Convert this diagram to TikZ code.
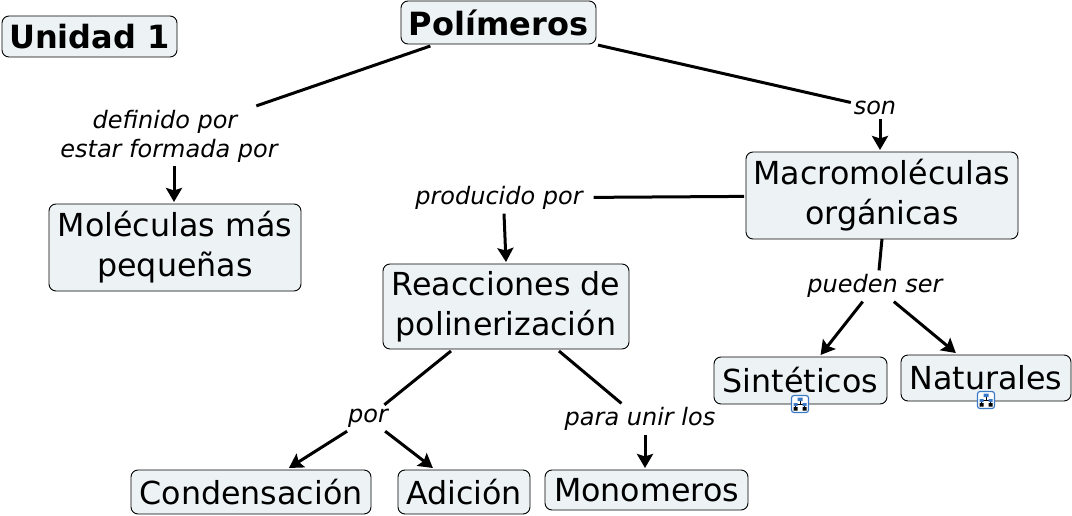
\documentclass[tikz,border=0pt]{standalone}
\usepackage{fontspec}
\setmainfont{DejaVu Sans}
\usetikzlibrary{arrows.meta}
\definecolor{boxfill}{HTML}{EDF3F5}
\definecolor{iconblue}{HTML}{3A78C8}
\tikzset{
    concept/.style = {draw, fill=boxfill, rounded corners=7pt, line width=0.9pt, align=center, inner sep=0pt, outer sep=2pt, font=\fontsize{31.7}{40}\selectfont},
    title/.style = {concept, font=\fontsize{32}{40}\selectfont\bfseries},
    phrase/.style = {align=center, inner ysep=4pt, inner xsep=3pt, outer sep=0pt, font=\fontsize{24}{29}\selectfont\itshape},
    link/.style = {line width=3pt},
    arrowlink/.style = {link, -{Stealth[length=14pt,width=16pt,inset=2.5pt]}},
    mapicon/.pic = {
        \draw[iconblue, fill=white, rounded corners=2.5pt, line width=1.2pt] (-8.5,-8.5) rectangle (8.5,8.5);
        \draw[black, line width=0.8pt] (0,-3) -- (0,0) (-4.5,0) -- (4.5,0) (-4.5,0) -- (-4.5,3) (4.5,0) -- (4.5,3);
        \fill[iconblue] (-2.5,-6.5) rectangle (2.5,-3) (-6.5,-1) rectangle (-2.5,2) (2.5,-1) rectangle (6.5,2);
        \fill[black] (-6.5,3) rectangle (-2.5,6.5) (2.5,3) rectangle (6.5,6.5);
    }
}
\begin{document}
\begin{tikzpicture}[x=1pt, y=-1pt]
    \useasboundingbox (0,0) rectangle (1072,516);
    \node[title, minimum width=175pt, minimum height=41pt] (unidad) at (89.5,36.5) {Unidad 1};
    \node[title, minimum width=195pt, minimum height=43pt] (polimeros) at (498.5,22.5) {Polímeros};
    \node[concept, minimum width=252pt, minimum height=87pt] (moleculas) at (175,247.5) {Moléculas más\\pequeñas};
    \node[concept, minimum width=272pt, minimum height=87pt] (macro) at (882,195.5) {Macromoléculas\\orgánicas};
    \node[concept, minimum width=246pt, minimum height=85pt] (reacciones) at (506,306.5) {Reacciones de\\polinerización};
    \node[concept, minimum width=173pt, minimum height=47pt] (sinteticos) at (800.5,380.5) {Sintéticos};
    \node[concept, minimum width=170pt, minimum height=46pt] (naturales) at (986,378) {Naturales};
    \node[concept, minimum width=240pt, minimum height=44pt] (condensacion) at (251,492) {Condensación};
    \node[concept, minimum width=132pt, minimum height=44pt] (adicion) at (464,492) {Adición};
    \node[concept, minimum width=203pt, minimum height=40pt] (monomeros) at (646.5,490) {Monomeros};

    \node[phrase] (definido) at (169,136) {definido por\hspace{8pt}\mbox{}\\estar formada por};
    \node[phrase] (son) at (875,108) {son};
    \node[phrase] (producido) at (499,198) {producido por};
    \node[phrase] (pueden) at (875,286) {pueden ser};
    \node[phrase] (por) at (368,418) {por};
    \node[phrase] (paraunir) at (640,419) {para unir los};

    \draw[link] (polimeros) -- (definido);
    \draw[link] (polimeros) -- (son);
    \draw[link, shorten >=8pt] (macro) -- (producido);
    \draw[link] ([yshift=2pt]macro.south) -- ([xshift=4pt]pueden.north);
    \draw[link] (reacciones) -- (por);
    \draw[link] (reacciones) -- (paraunir);
    \draw[arrowlink] ([xshift=5pt]definido.south) -- ([xshift=-1pt]moleculas.north);
    \draw[arrowlink] ([xshift=5pt]son.south) -- ([xshift=-2pt]macro.north);
    \draw[arrowlink] ([xshift=5pt]producido.south) -- (reacciones.north);
    \draw[arrowlink] (pueden) -- (sinteticos);
    \draw[arrowlink] (pueden) -- (naturales);
    \draw[arrowlink] (por) -- (condensacion);
    \draw[arrowlink] (por) -- (adicion);
    \draw[arrowlink] ([xshift=5pt]paraunir.south) -- ([xshift=-1.5pt]monomeros.north);

    \pic at (800,404) {mapicon};
    \pic at (986,400) {mapicon};
\end{tikzpicture}
\end{document}
